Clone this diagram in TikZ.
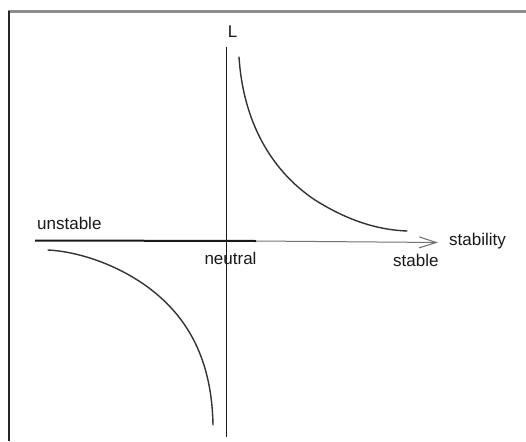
\documentclass[tikz,border=0pt]{standalone}
\usepackage{fontspec}
\setmainfont{Liberation Sans}
\usetikzlibrary{arrows.meta}
\begin{document}
\begin{tikzpicture}[x=1pt,y=-1pt,
  lbl/.style={inner sep=0pt,font=\fontsize{17}{19}\selectfont,text=black!90},
  axis/.style={line width=1.3pt,black!90},
  curve/.style={line width=1.4pt,black!80,line cap=round}]
\useasboundingbox (0,0) rectangle (526,441);
\fill[white] (0,0) rectangle (526,441);
% frame
\draw[line width=3pt,black!45] (8,12) -- (526,12);
\draw[line width=2pt,black!85] (9,11) -- (9,441);
% axes
\coordinate (vtop) at (226.5,47);
\coordinate (vbot) at (226.5,437);
\coordinate (hl) at (35,240.5);
\coordinate (hm) at (256,241);
\coordinate (hr) at (438,242.5);
\draw[axis] (vtop) -- (vbot);
\draw[line width=2pt,black!90] (hl) -- (hm);
\draw[line width=1pt,black!55,-{Straight Barb[length=17pt,width=11pt,line width=1.1pt]}] (hm) -- (hr);
% curves
\draw[curve] (239,57) .. controls (243,120) and (270,170) .. (315,200)
  .. controls (350,222) and (380,230) .. (407,231);
\draw[curve] (48,250) .. controls (85,252) and (130,270) .. (160,297)
  .. controls (195,328) and (212,370) .. (213,425);
% labels
\node[lbl,anchor=base] (L) at (232.5,38) {L};
\node[lbl,anchor=base west] (unst) at (37,229) {unstable};
\node[lbl,anchor=base] (neu) at (230.5,264) {neutral};
\node[lbl,anchor=base west] (st) at (393,266) {stable};
\node[lbl,anchor=base west] (stab) at (449,245) {stability};
\end{tikzpicture}
\end{document}
